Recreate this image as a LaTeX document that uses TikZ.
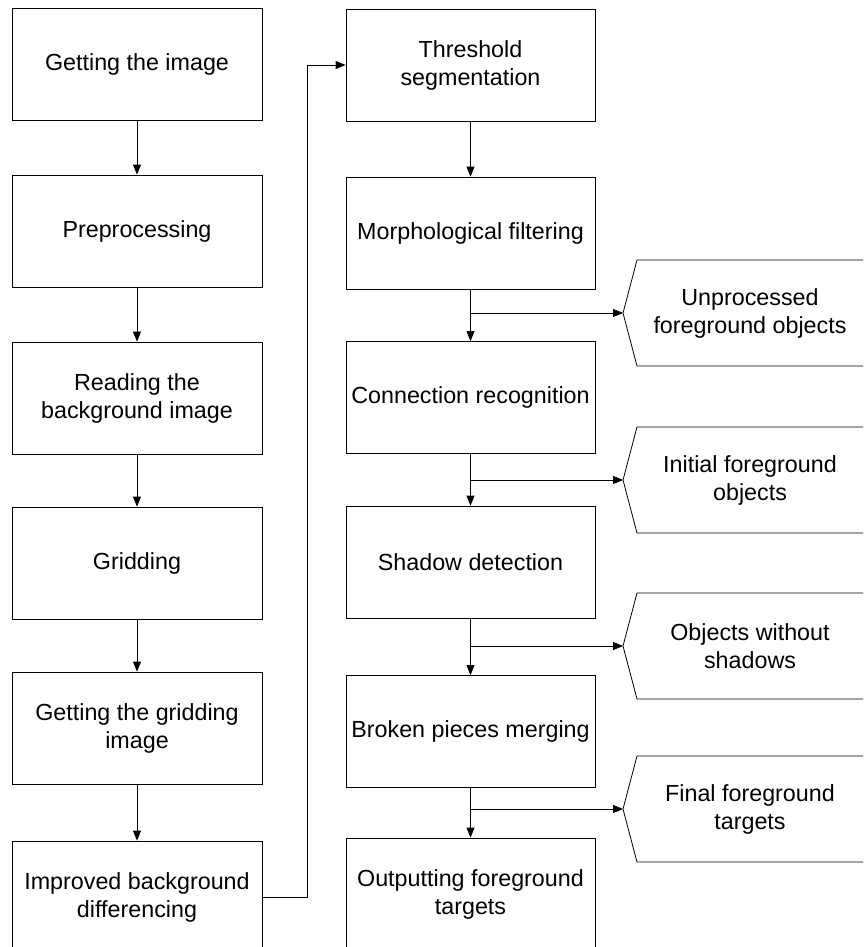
\documentclass[tikz,border=0pt]{standalone}
\usepackage{fontspec}
\setmainfont{Liberation Sans}
\usetikzlibrary{arrows.meta,calc}
\begin{document}
\begin{tikzpicture}[x=1pt,y=-1pt,
  every node/.style={font=\fontsize{23.3}{28}\selectfont, align=center, text=black},
  stepbox/.style={draw=black, line width=0.8pt, minimum width=250pt, minimum height=112pt, inner sep=0pt},
  ptext/.style={inner sep=0pt},
  conn/.style={draw=black, line width=0.8pt},
  arr/.style={conn, -{Triangle[length=10pt,width=8pt]}}
]
\useasboundingbox (0,0) rectangle (863,947);
\clip (0,0) rectangle (863,947);
% left column
\node[stepbox] (l1) at (137,64) {Getting the image};
\node[stepbox] (l2) at (137,231) {Preprocessing};
\node[stepbox] (l3) at (137,398) {Reading the\\background image};
\node[stepbox] (l4) at (137,563) {Gridding};
\node[stepbox] (l5) at (137,728) {Getting the gridding\\image};
\node[stepbox] (l6) at (137,897) {Improved background\\differencing};
% right column
\node[stepbox, minimum width=249pt] (r1) at (470.5,65) {Threshold\\segmentation};
\node[stepbox, minimum width=249pt] (r2) at (470.5,233) {Morphological filtering};
\node[stepbox, minimum width=249pt] (r3) at (470.5,397.5) {Connection recognition};
\node[stepbox, minimum width=249pt] (r4) at (470.5,562) {Shadow detection};
\node[stepbox, minimum width=249pt] (r5) at (470.5,731.5) {Broken pieces merging};
\node[stepbox, minimum width=249pt] (r6) at (470.5,894) {Outputting foreground\\targets};
% pentagons
\node[ptext] (p1) at (750,313) {Unprocessed\\foreground objects};
\node[ptext] (p2) at (750,480) {Initial foreground\\objects};
\node[ptext] (p3) at (750,646) {Objects without\\shadows};
\node[ptext] (p4) at (750,809) {Final foreground\\targets};
\foreach \p in {p1,p2,p3,p4}{
  \coordinate (\p tip) at ($(\p.center)+(-127,0)$);
  \draw[conn] ($(\p.center)+(120,-53)$) -- ($(\p.center)+(-113,-53)$) -- (\p tip)
     -- ($(\p.center)+(-113,53)$) -- ($(\p.center)+(120,53)$);
}
% left arrows
\draw[arr] (l1) -- (l2);
\draw[arr] (l2) -- (l3);
\draw[arr] (l3) -- (l4);
\draw[arr] (l4) -- (l5);
\draw[arr] (l5) -- (l6);
% cross connector
\coordinate (ca) at (307,0);
\draw[arr] (l6.east) -- (ca |- l6.east) -- (ca |- r1.west) -- (r1.west);
% right arrows
\draw[arr] (r1) -- (r2);
\draw[arr] (r2) -- (r3);
\draw[arr] (r3) -- (r4);
\draw[arr] (r4) -- (r5);
\draw[arr] (r5) -- (r6);
% branches
\draw[arr] (r2.south |- p1tip) -- (p1tip);
\draw[arr] (r3.south |- p2tip) -- (p2tip);
\draw[arr] (r4.south |- p3tip) -- (p3tip);
\draw[arr] (r5.south |- p4tip) -- (p4tip);
\end{tikzpicture}
\end{document}
